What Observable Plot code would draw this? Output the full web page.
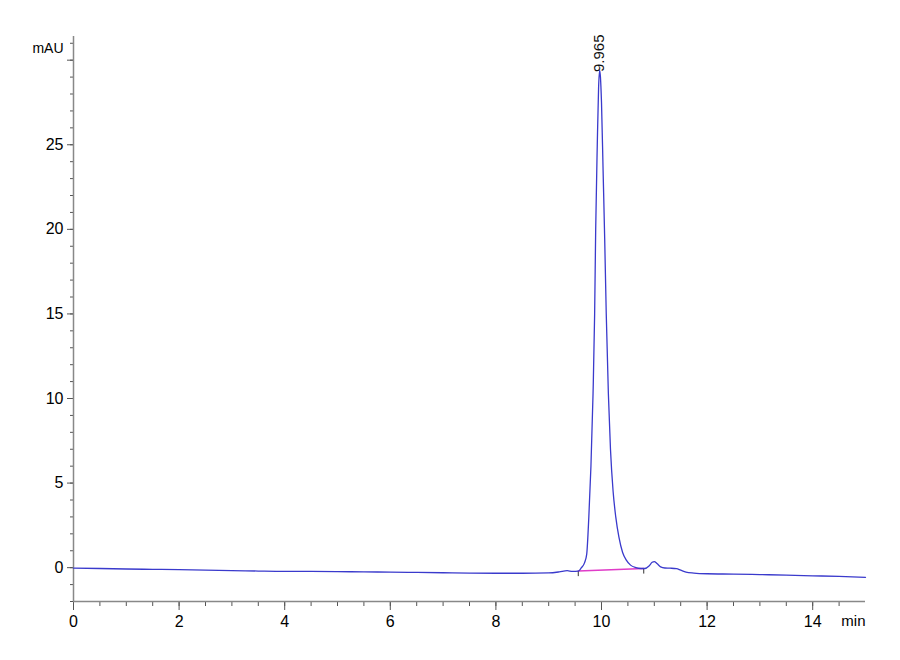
<!DOCTYPE html>
<html><head><meta charset="utf-8">
<script src="https://cdn.jsdelivr.net/npm/d3@7"></script>
<script src="https://cdn.jsdelivr.net/npm/@observablehq/plot@0.6"></script>
<style>body{margin:0;background:#fff}</style>
</head><body><div id="chart"></div>
<script>
// Chromatogram trace (time in min, absorbance in mAU)
const times = [0,0.5,1.0,1.5,2.0,2.5,3.0,3.5,4.0,4.5,5.0,5.5,6.0,6.5,7.0,7.5,8.0,8.5,9.0,9.2,9.35,9.45,9.56,9.62,9.68,9.72,9.76,9.80,9.84,9.87,9.89,9.92,9.945,9.965,9.98,10.0,10.03,10.06,10.09,10.13,10.17,10.22,10.27,10.33,10.40,10.47,10.55,10.65,10.75,10.82,10.90,10.96,11.0,11.05,11.12,11.2,11.3,11.42,11.5,11.6,11.75,12.0,12.5,13.0,13.5,14.0,14.5,15.0];
const signal = [-0.03,-0.05,-0.08,-0.10,-0.12,-0.15,-0.17,-0.20,-0.22,-0.22,-0.23,-0.25,-0.26,-0.28,-0.30,-0.32,-0.33,-0.33,-0.31,-0.25,-0.18,-0.22,-0.2,0.0,0.3,0.8,3.0,6.0,10.3,15.0,20.0,25.0,28.4,29.4,29.0,27.5,23.5,19.5,15.0,10.3,7.0,4.5,3.0,1.8,0.9,0.45,0.15,0.0,-0.05,-0.05,0.1,0.32,0.36,0.25,0.05,-0.02,-0.03,-0.06,-0.15,-0.26,-0.32,-0.36,-0.38,-0.41,-0.44,-0.48,-0.52,-0.57];
// Integration baseline
const baseTimes = [9.56,10.80];
const baseValues = [-0.2,-0.05];
// Peak annotation
const peakTimes = [9.965];
const peakHeights = [29.3];
const peakLabels = ["9.965"];
// Ticks
const xMajor = [0,2,4,6,8,10,12,14];
const xMinor = [0,0.5,1,1.5,2,2.5,3,3.5,4,4.5,5,5.5,6,6.5,7,7.5,8,8.5,9,9.5,10,10.5,11,11.5,12,12.5,13,13.5,14,14.5];
const yMajor = [0,5,10,15,20,25,30];
const yMajorLabels = ["0","5","10","15","20","25",""];
const yMinor = [-2,-1,0,1,2,3,4,5,6,7,8,9,10,11,12,13,14,15,16,17,18,19,20,21,22,23,24,25,26,27,28,29,30,31];

const trace = times.map((t,i)=>({t, v: signal[i]}));
const baseline = baseTimes.map((t,i)=>({t, v: baseValues[i]}));
const peaks = peakTimes.map((t,i)=>({t, v: peakHeights[i], label: peakLabels[i]}));

const narrow = "'Liberation Sans Narrow', 'Arial Narrow', 'Liberation Sans', Arial, sans-serif";

const chart = Plot.plot({
  width: 900, height: 660,
  marginLeft: 73, marginRight: 35, marginTop: 36, marginBottom: 59,
  x: {domain: [0, 15]},
  y: {domain: [-2, 31.4]},
  style: {fontFamily: narrow, fontSize: "16px", color: "#000", background: "#fff"},
  marks: [
    Plot.axisY({ticks: yMinor, tickSize: 3, tickFormat: () => "", stroke: "#555", label: null}),
    Plot.axisY({ticks: yMajor, tickSize: 6, tickPadding: 4, stroke: "#555", label: null, fontSize: 16,
      tickFormat: d => yMajorLabels[yMajor.indexOf(d)]}),
    Plot.axisX({ticks: xMinor, tickSize: 5, tickFormat: () => "", stroke: "#555", label: null}),
    Plot.axisX({ticks: xMajor, tickSize: 9, tickPadding: 5, stroke: "#555", label: null, fontSize: 16}),
    Plot.ruleX([0], {y1: -2, y2: 31.4, stroke: "#888", strokeWidth: 1.5}),
    Plot.ruleY([-2], {x1: 0, x2: 15, stroke: "#888", strokeWidth: 1.5}),
    Plot.line(baseline, {x: "t", y: "v", stroke: "#e03cc8", strokeWidth: 1.6}),
    Plot.link(baseline, {x1: "t", x2: "t", y1: "v", y2: d => d.v - 0.3, stroke: "#333", strokeWidth: 1}),
    Plot.line(trace, {x: "t", y: "v", stroke: "#3a3acc", strokeWidth: 1.3, curve: "monotone-x"}),
    Plot.text(peaks, {x: "t", y: "v", text: "label", rotate: -90, textAnchor: "start", fontSize: 15, fill: "#111"}),
    Plot.text(["mAU"], {frameAnchor: "top-left", dx: -10, dy: 7, textAnchor: "end", fontSize: 14}),
    Plot.text(["min"], {frameAnchor: "bottom-right", dy: 24, textAnchor: "end", fontSize: 15})
  ]
});
document.getElementById("chart").appendChild(chart);
</script>
</body></html>
